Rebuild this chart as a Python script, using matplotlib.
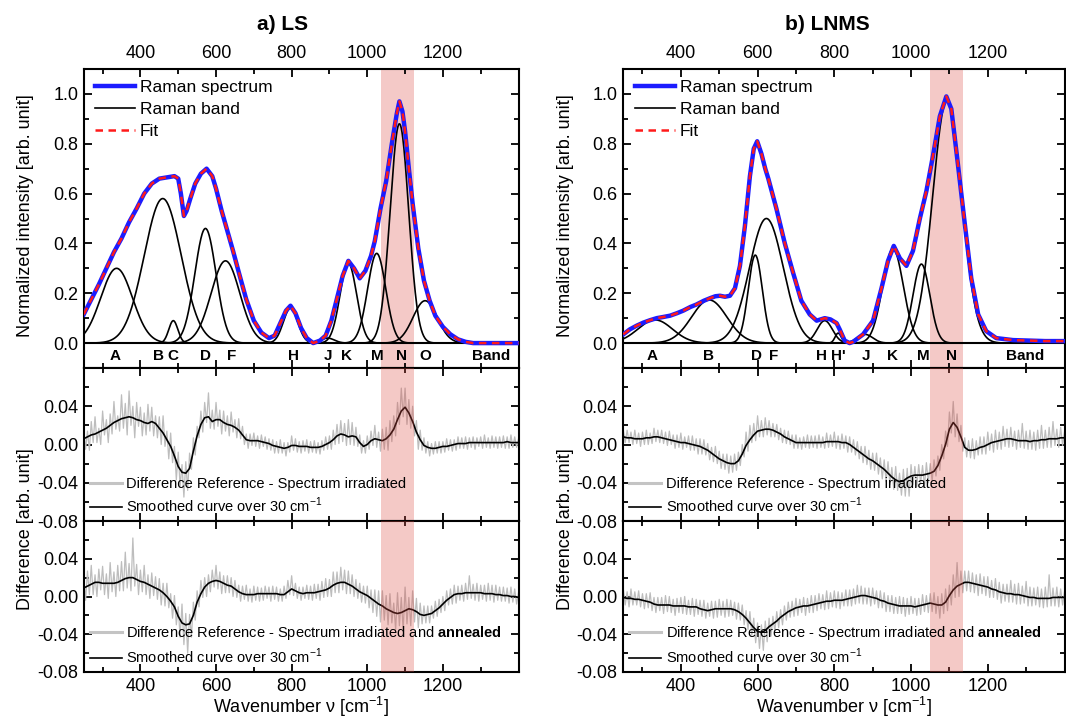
import numpy as np
import matplotlib
matplotlib.use("Agg")
import matplotlib.pyplot as plt
from matplotlib.ticker import MultipleLocator, FixedLocator, FormatStrFormatter
from matplotlib.lines import Line2D

plt.rcParams['font.family'] = ['Liberation Sans', 'DejaVu Sans']
plt.rcParams['mathtext.fontset'] = 'custom'
plt.rcParams['mathtext.rm'] = 'Liberation Sans'
plt.rcParams['mathtext.bf'] = 'Liberation Sans:bold'
plt.rcParams['axes.unicode_minus'] = False

# ---------------- LS data ----------------
ls_spec_nu = [250, 270, 290, 310, 330, 350, 370, 390, 410, 430,
              450, 470, 490, 500, 507, 515, 522, 532, 545, 560,
              575, 590, 600, 615, 630, 645, 660, 680, 700, 720,
              740, 755, 770, 785, 797, 810, 825, 840, 857, 875,
              890, 905, 920, 935, 950, 965, 980, 995, 1010, 1020,
              1035, 1050, 1065, 1078, 1085, 1093, 1100, 1110, 1120, 1135,
              1150, 1165, 1180, 1200, 1220, 1240, 1260, 1280, 1300, 1340,
              1400]
ls_spec_int = [0.115, 0.175, 0.235, 0.30, 0.365, 0.42, 0.485, 0.54, 0.60, 0.64,
               0.66, 0.665, 0.67, 0.66, 0.60, 0.51, 0.53, 0.58, 0.64, 0.68,
               0.70, 0.67, 0.62, 0.53, 0.45, 0.37, 0.285, 0.175, 0.09, 0.042,
               0.02, 0.03, 0.08, 0.13, 0.15, 0.12, 0.06, 0.02, 0.0, 0.01,
               0.03, 0.09, 0.18, 0.27, 0.33, 0.30, 0.26, 0.29, 0.35, 0.41,
               0.54, 0.65, 0.80, 0.92, 0.97, 0.93, 0.85, 0.70, 0.56, 0.38,
               0.25, 0.17, 0.11, 0.065, 0.035, 0.015, 0.005, 0.0, 0.0, 0.0,
               0.0]
ls_band_names = ['A', 'B', 'C', 'D', 'F', 'H', 'J', 'K', 'M', 'N', 'O']
ls_band_center = [337, 459, 487, 572, 625, 797, 895, 950, 1025, 1085, 1153]
ls_band_height = [0.30, 0.58, 0.09, 0.46, 0.33, 0.14, 0.02, 0.32, 0.36, 0.88, 0.17]
ls_band_sigma = [42, 49, 12, 28, 38, 19, 18, 22, 24, 24.5, 32]
ls_label_names = ['A', 'B', 'C', 'D', 'F', 'H', 'J', 'K', 'M', 'N', 'O', 'Band']
ls_label_pos = [333, 447, 486, 571, 641, 806, 896, 946, 1026, 1091, 1153, 1328]
ls_shade = [1036, 1124]

# difference spectra, 10^-3 arb. unit
ls_irr_smooth = [6, 8, 10, 11, 13, 15, 17, 20, 23, 25,
                 27, 28, 29, 28, 26, 25, 23, 22, 24, 22,
                 17, 12, 5, -2, -12, -23, -29, -30, -25, -7,
                 9, 21, 28, 29, 24, 26, 26, 23, 21, 20,
                 18, 15, 10, 5, 4, 4, 4, 3, 2, 1,
                 -1, -2, -3, -4, -3, -1, -1, -2, -2, -2,
                 -3, -3, -3, -2, 0, 2, 5, 9, 11, 10,
                 8, 9, 8, 2, -2, 0, 4, 6, 5, 4,
                 6, 10, 16, 26, 35, 39, 33, 24, 13, 5,
                 -1, -3, -4, -4, -3, -2, -2, -1, 0, 1,
                 1, 1, 2, 2, 2, 2, 2, 2, 2, 2,
                 2, 2, 3, 2, 2, 2]
ls_irr_raw = [16, -5, 14, -6, 24, 2, 29, 2, 17, 0, 35, 10, 26, 2, 32, 11, 45, 16, 30, 14,
              52, 17, 43, 10, 56, 20, 40, 7, 44, 19, 39, 9, 33, 10, 42, 14, 39, 9, 30, 7,
              29, 0, 30, -2, 14, -15, 12, -19, -2, -37, -8, -44, -21, -55, -18, -48, -9, -26, 7, -11,
              19, 7, 35, 13, 44, 23, 54, 17, 36, 16, 44, 19, 36, 11, 35, 14, 30, 9, 34, 13,
              26, 7, 27, 6, 19, 0, 11, -4, 11, -1, 12, -2, 9, -4, 10, -2, 8, -5, 6, -6,
              5, -9, 3, -9, 5, -9, 2, -12, 2, -8, 9, -6, 6, -8, 3, -9, 4, -7, 5, -9,
              3, -8, 4, -9, 2, -10, 4, -6, 8, -5, 9, -5, 15, 0, 21, 1, 25, 3, 22, -1,
              26, 0, 23, -1, 18, -2, 10, -9, 4, -9, 9, -5, 14, -1, 20, -3, 13, -7, 16, -5,
              18, -6, 25, 3, 30, 9, 44, 21, 59, 29, 59, 21, 47, 17, 40, 9, 25, -5, 15, -6,
              7, -9, 3, -12, 1, -10, 3, -9, 3, -9, 3, -8, 6, -6, 5, -7, 5, -6, 8, -4,
              7, -4, 8, -5, 7, -3, 8, -5, 7, -2, 8, -4, 10, -3, 7, -4, 9, -3, 8, -4,
              8, -3, 9, -4, 8, -4, 10, -3, 8, -3, 6]
ls_ann_smooth = [9, 11, 13, 15, 15, 14, 14, 14, 14, 15,
                 17, 19, 20, 20, 18, 16, 15, 13, 11, 9,
                 7, 4, 0, -5, -11, -21, -28, -30, -29, -20,
                 -6, 3, 10, 14, 16, 17, 16, 14, 12, 11,
                 8, 5, 3, 2, 2, 2, 3, 3, 3, 3,
                 3, 3, 2, 2, 5, 8, 6, 4, 3, 4,
                 4, 4, 5, 6, 7, 9, 12, 14, 15, 15,
                 13, 11, 8, 5, 3, 1, -2, -5, -8, -10,
                 -13, -15, -17, -18, -17, -15, -13, -14, -16, -19,
                 -20, -19, -18, -15, -12, -8, -4, -1, 2, 3,
                 3, 4, 4, 4, 4, 4, 3, 3, 3, 2,
                 2, 1, 1, 0, 0, -1]
ls_ann_raw = [21, -4, 27, 2, 33, 2, 23, 0, 29, 7, 32, 2, 24, -2, 36, 5, 26, 0, 33, 6,
              37, 6, 47, 9, 35, 6, 62, 11, 34, 2, 28, 5, 33, 2, 23, -2, 25, 1, 21, -3,
              19, -9, 14, -10, 14, -12, 3, -23, 1, -30, -11, -43, -8, -51, -18, -60, -19, -43, -6, -25,
              6, -11, 17, -1, 20, 0, 23, 5, 28, 10, 33, 8, 26, 3, 22, 4, 22, 4, 20, 0,
              17, -1, 12, -5, 11, -3, 12, -5, 8, -6, 11, -4, 10, -5, 9, -4, 11, -2, 10, -5,
              11, -3, 10, -5, 8, -5, 11, -2, 17, 2, 22, 1, 14, -2, 10, -4, 10, -2, 12, -3,
              11, -4, 13, -2, 13, -4, 16, -1, 19, 0, 18, 0, 26, 4, 26, 4, 31, 7, 28, 3,
              27, 3, 23, 0, 18, -2, 14, -6, 11, -7, 11, -12, 7, -17, 7, -21, 6, -27, 6, -25,
              1, -30, 3, -28, -7, -35, 4, -31, -1, -36, 10, -29, -1, -31, 6, -27, -2, -33, -7, -29,
              -10, -28, -10, -28, -10, -23, -5, -21, -3, -17, 0, -15, 6, -9, 8, -8, 12, -7, 11, -4,
              12, -5, 14, -3, 22, -2, 13, -4, 14, -5, 12, -3, 12, -5, 14, -4, 12, -6, 12, -4,
              10, -5, 10, -5, 9, -7, 10, -6, 8, -8, 4]

# ---------------- LNMS data ----------------
lnms_spec_nu = [250, 267, 285, 302, 320, 337, 355, 372, 390, 406,
                425, 441, 460, 476, 490, 502, 515, 528, 541, 554,
                567, 580, 590, 599, 610, 620, 628, 649, 671, 693,
                714, 736, 754, 775, 790, 806, 814, 827, 840, 849,
                875, 901, 923, 940, 955, 971, 988, 1005, 1023, 1040,
                1057, 1075, 1092, 1105, 1122, 1140, 1157, 1175, 1196, 1222,
                1266, 1309, 1350, 1400]
lnms_spec_int = [0.035, 0.055, 0.07, 0.082, 0.092, 0.10, 0.105, 0.11, 0.12, 0.13,
                 0.145, 0.155, 0.17, 0.18, 0.188, 0.19, 0.186, 0.19, 0.22, 0.31,
                 0.47, 0.67, 0.78, 0.81, 0.76, 0.70, 0.66, 0.54, 0.40, 0.28,
                 0.17, 0.115, 0.09, 0.10, 0.095, 0.08, 0.055, 0.01, 0.0, 0.005,
                 0.035, 0.09, 0.22, 0.33, 0.39, 0.34, 0.31, 0.37, 0.50, 0.61,
                 0.75, 0.91, 0.99, 0.94, 0.72, 0.48, 0.26, 0.115, 0.048, 0.02,
                 0.012, 0.01, 0.008, 0.008]
lnms_band_names = ['A', 'B', 'D', 'F', 'H', "H'", 'J', 'K', 'M', 'N']
lnms_band_center = [333, 474, 594, 623, 775, 810, 880, 953, 1027, 1094]
lnms_band_height = [0.093, 0.173, 0.353, 0.50, 0.09, 0.04, 0.035, 0.378, 0.317, 0.976]
lnms_band_sigma = [45, 46, 18.5, 44, 20, 8, 20, 27, 22, 37.5]
lnms_label_names = ['A', 'B', 'D', 'F', 'H', "H'", 'J', 'K', 'M', 'N', 'Band']
lnms_label_pos = [324, 471, 597, 642, 767, 810, 882, 951, 1033, 1105, 1298]
lnms_shade = [1049, 1136]

lnms_irr_smooth = [8, 7, 7, 6, 6, 6, 7, 7, 8, 8,
                   7, 6, 5, 4, 3, 2, 2, 1, 0, -1,
                   -2, -4, -6, -9, -12, -15, -17, -19, -20, -20,
                   -17, -10, -1, 5, 10, 14, 15, 16, 16, 15,
                   13, 11, 8, 6, 4, 2, 2, 2, 2, 2,
                   2, 2, 2, 3, 3, 3, 3, 2, 2, 0,
                   -3, -6, -9, -12, -15, -17, -20, -23, -26, -30,
                   -34, -37, -39, -38, -35, -33, -32, -32, -32, -31,
                   -30, -28, -22, -12, 0, 16, 23, 18, 8, -3,
                   -6, -6, -5, -3, -2, 0, 2, 3, 4, 5,
                   6, 6, 5, 4, 4, 4, 3, 4, 4, 5,
                   5, 6, 6, 6, 7, 7]
lnms_irr_raw = [15, 2, 15, 2, 13, 0, 15, 1, 12, -2, 13, 0, 15, 0, 12, 1, 17, 3, 15, 2,
                15, 1, 13, -1, 14, 0, 10, -4, 10, -3, 12, -5, 8, -3, 9, -6, 9, -6, 6, -10,
                6, -10, 5, -11, 1, -16, -3, -18, -2, -20, -7, -25, -10, -26, -10, -30, -12, -29, -10, -27,
                -8, -22, 0, -13, 13, -7, 20, 2, 22, 4, 30, 8, 25, 8, 28, 10, 25, 8, 22, 8,
                21, 5, 17, 2, 15, 1, 14, 0, 10, -4, 10, -4, 7, -5, 8, -3, 10, -4, 9, -3,
                9, -4, 10, -3, 8, -4, 12, -3, 10, -2, 13, -4, 9, -5, 11, -4, 9, -8, 8, -8,
                5, -11, 3, -15, -2, -19, -2, -21, -6, -26, -9, -27, -9, -31, -14, -36, -16, -39, -18, -42,
                -24, -47, -23, -48, -30, -53, -26, -54, -25, -54, -21, -42, -23, -44, -21, -41, -22, -44, -19, -40,
                -20, -38, -16, -33, -12, -27, 0, -15, 14, -2, 34, 12, 45, 8, 32, 3, 20, -7, 7, -13,
                4, -14, 6, -15, 4, -11, 8, -10, 8, -10, 13, -6, 11, -8, 15, -5, 13, -5, 19, -2,
                16, -3, 18, -2, 14, -5, 15, -3, 22, -4, 14, -5, 15, -5, 13, -6, 15, -4, 20, -4,
                15, -3, 18, -3, 24, -1, 16, -3, 18, -1, 13]
lnms_ann_smooth = [-1, -2, -2, -3, -3, -4, -5, -6, -8, -9,
                   -9, -9, -9, -10, -10, -10, -10, -11, -11, -11,
                   -13, -14, -15, -14, -13, -13, -13, -13, -13, -14,
                   -16, -19, -23, -28, -33, -37, -38, -36, -32, -29,
                   -26, -22, -19, -16, -14, -12, -11, -10, -10, -9,
                   -8, -7, -6, -5, -5, -4, -4, -4, -3, -2,
                   -1, 0, 1, 1, 0, -1, -2, -4, -5, -7,
                   -8, -9, -10, -10, -10, -10, -11, -10, -9, -8,
                   -7, -8, -9, -9, -6, 1, 7, 11, 13, 15,
                   15, 14, 13, 12, 11, 10, 8, 7, 5, 4,
                   3, 3, 2, 2, 1, 0, -1, -1, -2, -2,
                   -2, -2, -1, -1, -1, -1]
lnms_ann_raw = [8, -9, 5, -11, 8, -9, 5, -9, 6, -11, 3, -13, 3, -12, 4, -15, -1, -17, -1, -15,
                -1, -18, 1, -16, 0, -17, -3, -20, -2, -17, -1, -18, 0, -19, -4, -19, -2, -21, -3, -19,
                -4, -21, -4, -23, -7, -21, -5, -23, -5, -22, -3, -20, -5, -22, -3, -21, -4, -20, -6, -24,
                -7, -25, -9, -30, -15, -35, -16, -41, -23, -49, -28, -55, -30, -57, -26, -48, -23, -42, -21, -37,
                -16, -33, -14, -30, -10, -25, -6, -22, -5, -21, -2, -20, -3, -17, -1, -20, -2, -17, 1, -17,
                1, -15, 3, -13, 2, -14, 6, -13, 4, -11, 6, -12, 5, -13, 4, -10, 7, -10, 7, -10,
                8, -8, 12, -7, 11, -8, 9, -8, 9, -10, 9, -8, 6, -12, 6, -12, 4, -16, 1, -16,
                1, -18, -1, -18, 0, -18, -1, -21, -2, -19, 0, -18, -2, -20, -2, -19, 2, -16, 1, -17,
                3, -16, 4, -18, 0, -23, 3, -18, 8, -15, 12, -9, 23, -1, 36, 0, 27, 4, 27, 6,
                27, 5, 25, 4, 23, 1, 24, 3, 21, 1, 21, -1, 17, -1, 19, -3, 15, -7, 13, -5,
                13, -6, 17, -6, 13, -8, 14, -8, 11, -7, 16, -10, 10, -10, 9, -9, 10, -11, 8, -12,
                10, -11, 23, -10, 9, -10, 10, -11, 8, -9, 5]

x_ticks = [400, 600, 800, 1000, 1200]
smooth_nu = np.arange(250, 1401, 10)
raw_nu = np.arange(250, 1401, 5)
band_grid = np.linspace(250, 1400, 1151)

fig = plt.figure(figsize=(10.66, 7.21), dpi=100)
W, H = 1066.0, 721.0


def add_axes(x0, x1, y0, y1):
    return fig.add_axes([x0 / W, 1 - y1 / H, (x1 - x0) / W, (y1 - y0) / H])


def style(ax):
    ax.set_xlim(250, 1400)
    ax.xaxis.set_major_locator(FixedLocator(x_ticks))
    ax.xaxis.set_minor_locator(MultipleLocator(100))
    ax.tick_params(which='both', direction='in', top=True, bottom=True,
                   left=True, right=True, width=1.3, labelsize=13)
    ax.tick_params(which='major', length=6)
    ax.tick_params(which='minor', length=3.5)
    for s in ax.spines.values():
        s.set_linewidth(1.5)


def diff_panel(ax, raw, smooth, label, shade, show_x):
    style(ax)
    ax.plot(raw_nu, np.array(raw) / 1000, color='#bdbdbd', lw=0.9, zorder=2)
    ax.plot(smooth_nu, np.array(smooth) / 1000, color='black', lw=1.2, zorder=3)
    ax.axvspan(shade[0], shade[1], color=(0.86, 0.30, 0.27), alpha=0.3, lw=0, zorder=5)
    ax.set_ylim(-0.08, 0.08)
    ax.yaxis.set_major_locator(FixedLocator([-0.08, -0.04, 0.0, 0.04]))
    ax.yaxis.set_minor_locator(MultipleLocator(0.02))
    ax.yaxis.set_major_formatter(FormatStrFormatter('%.2f'))
    ax.tick_params(axis='y', pad=4)
    if show_x:
        ax.tick_params(axis='x', labelbottom=True, pad=4)
    else:
        ax.tick_params(axis='x', labelbottom=False)
    handles = [Line2D([], [], color='#c4c4c4', lw=2.2),
               Line2D([], [], color='black', lw=1.2)]
    ax.legend(handles, [label, 'Smoothed curve over 30 cm$^{-1}$'],
              loc='lower left', bbox_to_anchor=(0, 0), frameon=False,
              fontsize=10.5, borderaxespad=0, borderpad=0.4,
              labelspacing=0.35, handlelength=2.2, handletextpad=0.3)


def column(x0, x1, spec_nu, spec_int, names, centers, heights, sigmas,
           label_names, label_pos, shade, irr_raw, irr_smooth, ann_raw, ann_smooth,
           title, title_x, ylab_x):
    ax = add_axes(x0, x1, 69, 368)
    style(ax)
    ax.axvspan(shade[0], shade[1], color='#f4c9c7', lw=0, zorder=0)
    ax.axhline(0, color='black', lw=1.5, zorder=2)
    for k in range(len(names)):
        prof = heights[k] * np.exp(-0.5 * ((band_grid - centers[k]) / sigmas[k]) ** 2)
        ax.plot(band_grid, prof, color='black', lw=1.2, zorder=2,
                label='Raman band' if k == 0 else None)
    ax.plot(spec_nu, spec_int, color='#1c1cff', lw=3.2, zorder=3, label='Raman spectrum')
    ax.plot(spec_nu, spec_int, color='#ff1a1a', lw=1.8, ls=(0, (3, 2.2)), zorder=4, label='Fit')
    for nm, p in zip(label_names, label_pos):
        ax.text(p, -0.052, nm, ha='center', va='center', fontsize=11, fontweight='bold')
    ax.set_ylim(-0.1, 1.1)
    ax.yaxis.set_major_locator(FixedLocator([0.0, 0.2, 0.4, 0.6, 0.8, 1.0]))
    ax.yaxis.set_minor_locator(FixedLocator([0.1, 0.3, 0.5, 0.7, 0.9, 1.1]))
    ax.yaxis.set_major_formatter(FormatStrFormatter('%.1f'))
    ax.tick_params(axis='y', pad=4)
    ax.tick_params(axis='x', labeltop=True, labelbottom=False, pad=5)
    h, l = ax.get_legend_handles_labels()
    order = [l.index('Raman spectrum'), l.index('Raman band'), l.index('Fit')]
    ax.legend([h[i] for i in order], [l[i] for i in order], loc='upper left',
              bbox_to_anchor=(0, 1), frameon=False, fontsize=12.5, borderaxespad=0,
              borderpad=0.65, labelspacing=0.38, handlelength=2.3, handletextpad=0.3)

    ax2 = add_axes(x0, x1, 368, 521)
    diff_panel(ax2, irr_raw, irr_smooth, 'Difference Reference - Spectrum irradiated',
               shade, False)
    ax3 = add_axes(x0, x1, 521, 672)
    diff_panel(ax3, ann_raw, ann_smooth,
               'Difference Reference - Spectrum irradiated and $\\mathbf{annealed}$',
               shade, True)
    ax3.set_xlabel('Wavenumber \u03bd [cm$^{-1}$]', fontsize=13, labelpad=0)

    fig.text(title_x / W, 1 - 24 / H, title, ha='center', va='center',
             fontsize=15, fontweight='bold')
    fig.text(ylab_x / W, 1 - 216 / H, 'Normalized intensity [arb. unit]',
             rotation=90, ha='center', va='center', fontsize=13)
    fig.text(ylab_x / W, 1 - 529 / H, 'Difference [arb. unit]',
             rotation=90, ha='center', va='center', fontsize=13)


column(83.7, 518.5, ls_spec_nu, ls_spec_int, ls_band_names, ls_band_center,
       ls_band_height, ls_band_sigma, ls_label_names, ls_label_pos, ls_shade,
       ls_irr_raw, ls_irr_smooth, ls_ann_raw, ls_ann_smooth, 'a) LS', 283, 26)
column(623.3, 1064.5, lnms_spec_nu, lnms_spec_int, lnms_band_names, lnms_band_center,
       lnms_band_height, lnms_band_sigma, lnms_label_names, lnms_label_pos, lnms_shade,
       lnms_irr_raw, lnms_irr_smooth, lnms_ann_raw, lnms_ann_smooth, 'b) LNMS', 827, 565)

fig.savefig('out.png', dpi=100)
